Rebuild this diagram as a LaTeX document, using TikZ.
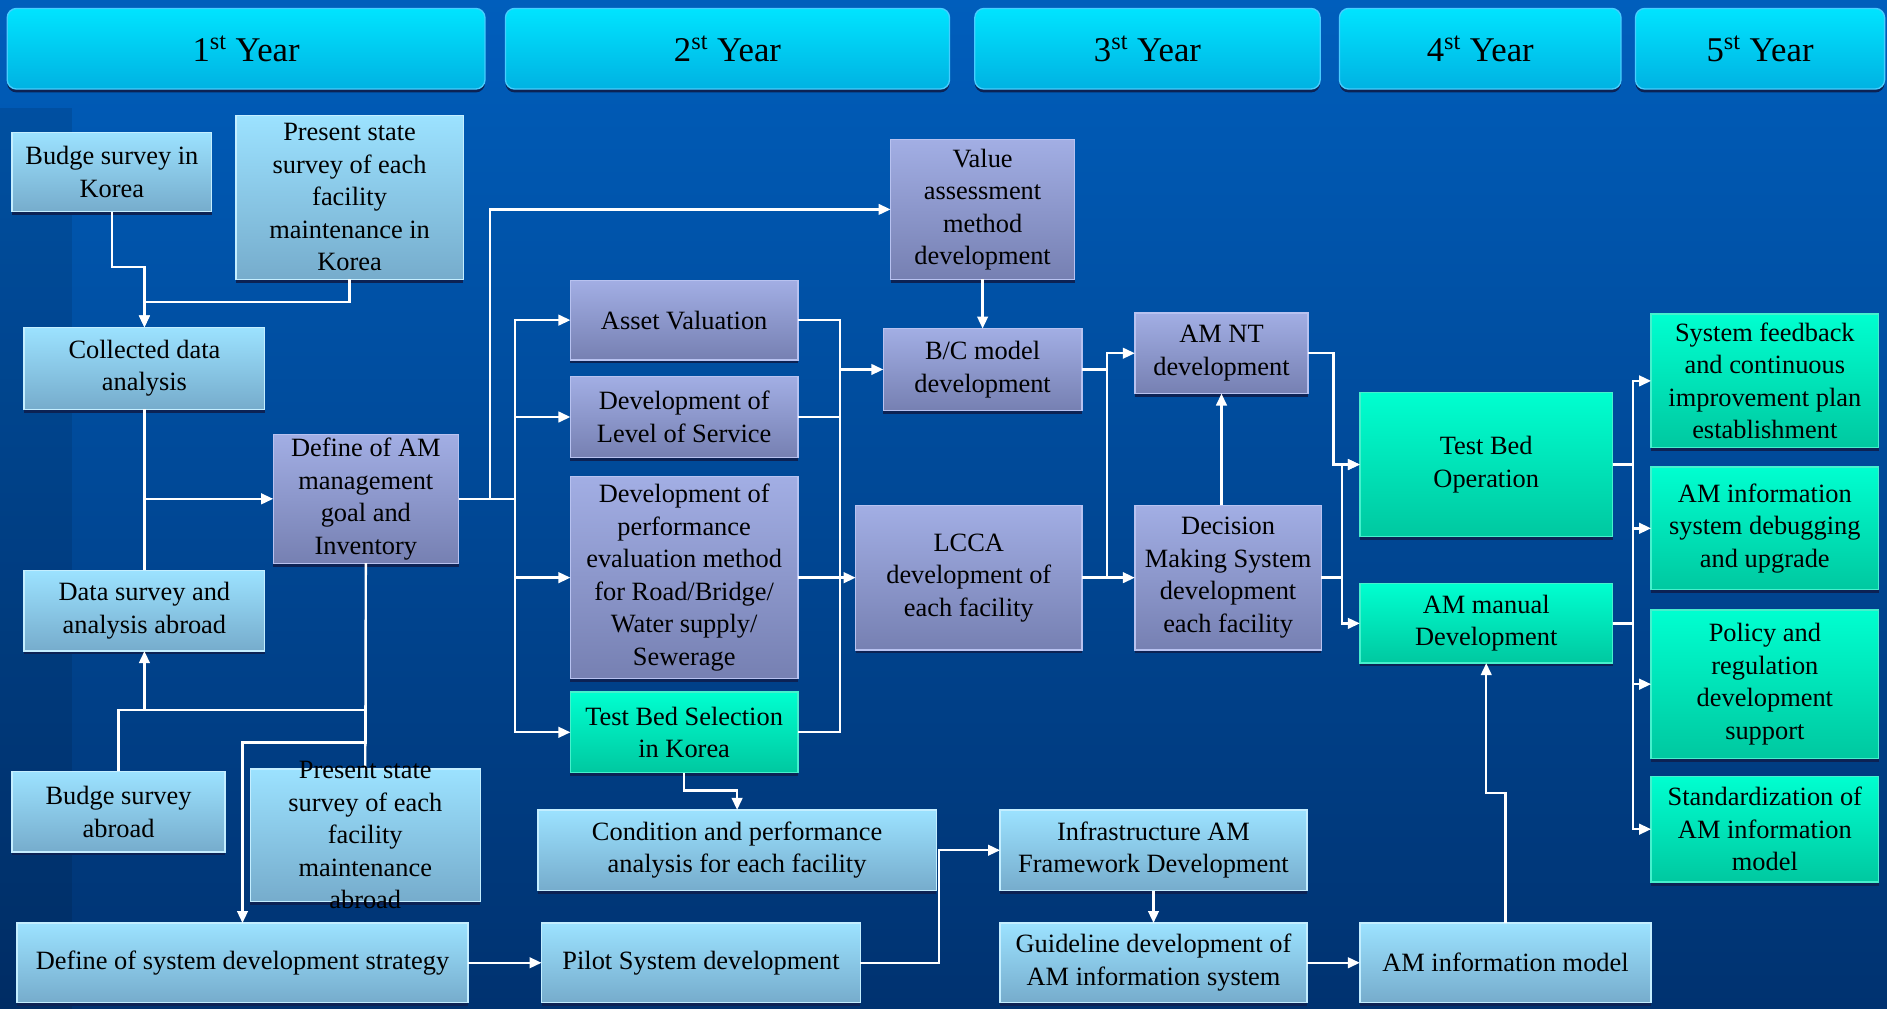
\documentclass[tikz,border=0pt]{standalone}
\usepackage{fontspec}
\setmainfont{Liberation Serif}
\usetikzlibrary{arrows.meta, shadows}

\definecolor{bgTop}{RGB}{0,94,188}
\definecolor{bgBot}{RGB}{0,50,112}
\definecolor{lbTop}{RGB}{156,226,255}
\definecolor{lbBot}{RGB}{118,172,204}
\definecolor{lbLine}{RGB}{196,238,255}
\definecolor{puTop}{RGB}{162,174,228}
\definecolor{puBot}{RGB}{118,128,178}
\definecolor{puLine}{RGB}{184,194,240}
\definecolor{grTop}{RGB}{0,255,208}
\definecolor{grBot}{RGB}{0,200,160}
\definecolor{grLine}{RGB}{70,240,205}
\definecolor{yrTop}{RGB}{0,228,255}
\definecolor{yrBot}{RGB}{0,178,226}
\definecolor{yrLine}{RGB}{70,205,255}
\definecolor{shd}{RGB}{12,34,84}

\tikzset{
  cell/.style n args={4}{minimum width={(#3-#1)*0.025cm}, minimum height={(#4-#2)*0.025cm},
    at={({(#1+#3)/2},{(#2+#4)/2})}},
  box/.style={draw, line width=0.8pt, inner sep=0pt, outer sep=0pt, align=center,
    general shadow={fill=shd, shadow yshift=-2pt}},
  lbox/.style={box, draw=lbLine, top color=lbTop, bottom color=lbBot},
  pbox/.style={box, draw=puLine, top color=puTop, bottom color=puBot},
  gbox/.style={box, draw=grLine, top color=grTop, bottom color=grBot},
  yearbox/.style={box, draw=yrLine, top color=yrTop, bottom color=yrBot,
    rounded corners=5.5pt, font=\fontsize{20.5pt}{24pt}\selectfont},
  ln/.style={draw=white, line width=1.4pt},
  arr/.style={ln, -{Triangle[length=2.5mm, width=2.2mm]}},
}
\newcommand{\yr}[1]{#1\textsuperscript{st} Year}

\begin{document}
\begin{tikzpicture}[x=0.025cm, y=-0.025cm, font=\fontsize{15.6pt}{19.2pt}\selectfont]
\useasboundingbox (0,0) rectangle (1568,838);

% ── Background ──────────────────────────────────────────────
\fill[top color=bgTop, bottom color=bgBot] (0,0) rectangle (1568,838);
\fill[black, opacity=0.1] (0,90) rectangle (60,838);

% ── Years ───────────────────────────────────────────────────
\node[yearbox, cell={6}{7}{403}{74}] (y1) {\yr{1}};
\node[yearbox, cell={420}{7}{789}{74}] (y2) {\yr{2}};
\node[yearbox, cell={810}{7}{1097}{74}] (y3) {\yr{3}};
\node[yearbox, cell={1113}{7}{1347}{74}] (y4) {\yr{4}};
\node[yearbox, cell={1359}{7}{1566}{74}] (y5) {\yr{5}};

% ── 1st year ────────────────────────────────────────────────
\node[lbox, cell={10}{110}{176}{176}] (budgeKr) {Budge survey in\\Korea};
\node[lbox, cell={196}{96}{385}{232}] (stateKr) {Present state\\survey of each\\facility\\maintenance in\\Korea};
\node[lbox, cell={20}{272}{220}{340}] (collected) {Collected data\\analysis};
\node[pbox, cell={227}{361}{381}{468}] (amGoal) {Define of AM\\management\\goal and\\Inventory};
\node[lbox, cell={20}{474}{220}{541}] (dataAbroad) {Data survey and\\analysis abroad};
\node[lbox, cell={10}{641}{187}{708}] (budgeAb) {Budge survey\\abroad};
\node[lbox, cell={208}{639}{399}{749}] (stateAb) {};
\node[lbox, cell={14}{767}{389}{833}] (strategy) {Define of system development strategy};

% ── 2nd year ────────────────────────────────────────────────
\node[pbox, cell={474}{233}{663}{299}] (assetVal) {Asset Valuation};
\node[pbox, cell={474}{313}{663}{380}] (los) {Development of\\Level of Service};
\node[pbox, cell={474}{396}{663}{564}] (perfEval) {Development of\\performance\\evaluation method\\for Road/Bridge/\\Water supply/\\Sewerage};
\node[gbox, cell={474}{575}{663}{642}] (tbSelect) {Test Bed Selection\\in Korea};
\node[lbox, cell={447}{673}{778}{740}] (condition) {Condition and performance\\analysis for each facility};
\node[lbox, cell={450}{767}{715}{833}] (pilot) {Pilot System development};
\node[pbox, cell={740}{116}{893}{232}] (valueAss) {Value\\assessment\\method\\development};
\node[pbox, cell={734}{273}{899}{341}] (bcModel) {B/C model\\development};

% ── 3rd year ────────────────────────────────────────────────
\node[pbox, cell={711}{420}{899}{540}] (lcca) {LCCA\\development of\\each facility};
\node[pbox, cell={943}{260}{1087}{327}] (amNT) {AM NT\\development};
\node[pbox, cell={943}{420}{1098}{540}] (decision) {Decision\\Making System\\development\\each facility};
\node[lbox, cell={831}{673}{1086}{740}] (framework) {Infrastructure AM\\Framework Development};
\node[lbox, cell={831}{767}{1086}{833}] (guideline) {Guideline development of\\AM information system};

% ── 4th year ────────────────────────────────────────────────
\node[gbox, cell={1130}{326}{1340}{446}] (tbOperation) {Test Bed\\Operation};
\node[gbox, cell={1130}{485}{1340}{551}] (amManual) {AM manual\\Development};
\node[lbox, cell={1130}{767}{1372}{833}] (amModel) {AM information model};

% ── 5th year ────────────────────────────────────────────────
\node[gbox, cell={1372}{261}{1561}{372}] (feedback) {System feedback\\and continuous\\improvement plan\\establishment};
\node[gbox, cell={1372}{388}{1561}{490}] (debugging) {AM information\\system debugging\\and upgrade};
\node[gbox, cell={1372}{507}{1561}{630}] (policy) {Policy and\\regulation\\development\\support};
\node[gbox, cell={1372}{645}{1561}{733}] (standard) {Standardization of\\AM information\\model};

% ── Connectors ──────────────────────────────────────────────
\draw[arr] (budgeKr.south) -- ++(0,46) -| (collected.north);
\draw[arr] (stateKr.south) -- ++(0,19) -| (collected.north);
\draw[ln] (collected.south) -- (dataAbroad.north);
\draw[arr] (collected.south |- amGoal.west) -- (amGoal.west);

\draw[arr] (amGoal.east) -- ++(26,0) |- (valueAss.west);
\foreach \t in {assetVal, los, perfEval, tbSelect}
  \draw[arr] (amGoal.east) -- ++(47,0) |- (\t.west);

\draw[arr] (amGoal.south) -- ++(0,149) -| (strategy.north);
\draw[ln] (amGoal.south) -- (stateAb.north);
\draw[arr] (budgeAb.north) -- ++(0,-51) -| (dataAbroad.south);
\draw[ln] (budgeAb.north) ++(0,-51) -| (stateAb.north);

\foreach \s in {assetVal, los, perfEval}
  \draw[ln] (\s.east) -- ++(35,0);
\draw[ln] (assetVal.east) ++(35,0) |- (tbSelect.east);
\draw[arr] (assetVal.east) -- ++(35,0) |- (bcModel.west);
\draw[arr] (perfEval.east) -- (lcca.west);
\draw[arr] (valueAss.south) -- (bcModel.north);
\draw[arr] (tbSelect.south) -- ++(0,15) -| (condition.north);

\draw[arr] (bcModel.east) -- ++(21,0) |- (amNT.west);
\draw[ln] (bcModel.east) ++(21,0) |- (lcca.east);
\draw[arr] (lcca.east) -- (decision.west);
\draw[arr] (amNT.south |- decision.north) -- (amNT.south);

\draw[arr] (amNT.east) -- ++(21,0) |- (tbOperation.west);
\draw[arr] (decision.east) -- ++(17,0) |- (amManual.west);
\draw[arr] (decision.east) ++(17,0) |- (tbOperation.west);

\foreach \t in {feedback, debugging}
  \draw[arr] (tbOperation.east) -- ++(17,0) |- (\t.west);
\foreach \t in {policy, standard}
  \draw[arr] (amManual.east) -- ++(17,0) |- (\t.west);
\draw[ln] (tbOperation.east) ++(17,0) |- (amManual.east);

\draw[arr] (strategy.east) -- (pilot.west);
\draw[arr] (pilot.east) -- ++(65,0) |- (framework.west);
\draw[arr] (framework.south) -- (guideline.north);
\draw[arr] (guideline.east) -- (amModel.west);
\draw[arr] (amModel.north) -- ++(0,-108) -| (amManual.south);

% ── Overflowing text ────────────────────────────────────────
\node[align=center] (stateAbText) at (stateAb.center) {Present state\\survey of each\\facility\\maintenance\\abroad};

\end{tikzpicture}
\end{document}
